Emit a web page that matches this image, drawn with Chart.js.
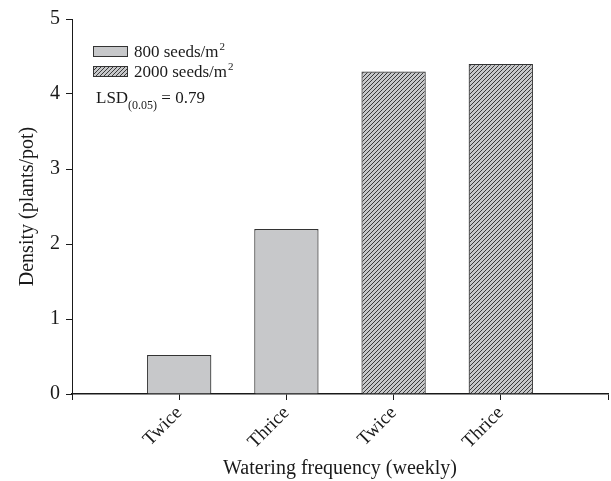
<!DOCTYPE html>
<html>
<head>
<meta charset="utf-8">
<script src="https://cdn.jsdelivr.net/npm/chart.js@4"></script>
<style>
  body { margin: 0; background: #fff; }
  canvas { display: block; }
</style>
</head>
<body>
<canvas id="densityChart" width="611" height="481"></canvas>
<script>
// ------------------------------------------------------------
// Data
// ------------------------------------------------------------
const CATEGORIES = ['', 'Twice', 'Thrice', 'Twice', 'Thrice', ''];
const SERIES_LABELS = ['800 seeds/m²', '2000 seeds/m²'];
const DENSITY_800 = [null, 0.52, 2.2, null, null, null];
const DENSITY_2000 = [null, null, null, 4.3, 4.4, null];
const Y_TICKS = [0, 1, 2, 3, 4, 5];
const LSD_NOTE = { main: 'LSD', sub: '(0.05)', rest: ' = 0.79' };

const SERIF = '"Liberation Serif", "DejaVu Serif", serif';
const INK = '#1a1a1a';
const GREY = '#c7c8ca';

// diagonal hatch for the high density bars
function makeHatch() {
  const c = document.createElement('canvas');
  c.width = 4; c.height = 4;
  const g = c.getContext('2d');
  g.fillStyle = GREY;
  g.fillRect(0, 0, 4, 4);
  g.strokeStyle = '#3a3a3a';
  g.lineWidth = 1;
  g.beginPath();
  g.moveTo(-1, 5); g.lineTo(5, -1);
  g.moveTo(-1, 1); g.lineTo(1, -1);
  g.moveTo(3, 5); g.lineTo(5, 3);
  g.stroke();
  return g.createPattern(c, 'repeat');
}
const HATCH = makeHatch();

// legend + LSD note drawn inside the plot area
const innerLegend = {
  id: 'innerLegend',
  afterDraw(chart) {
    const ctx = chart.ctx;
    const area = chart.chartArea;
    const x0 = area.left + 21;
    let y0 = area.top + 27;
    ctx.save();
    chart.data.datasets.forEach((ds, i) => {
      const by = y0 + i * 20;
      ctx.fillStyle = ds.backgroundColor;
      ctx.fillRect(x0, by, 34, 10);
      ctx.strokeStyle = '#333';
      ctx.lineWidth = 1;
      ctx.strokeRect(x0 + 0.5, by + 0.5, 34, 10);
      let label = ds.label;
      let sup = '';
      if (label.endsWith('²')) { label = label.slice(0, -1); sup = '2'; }
      ctx.fillStyle = INK;
      ctx.textBaseline = 'alphabetic';
      ctx.textAlign = 'left';
      ctx.font = '17px ' + SERIF;
      ctx.fillText(label, x0 + 41, by + 11);
      if (sup) {
        const w = ctx.measureText(label).width;
        ctx.font = '11px ' + SERIF;
        ctx.fillText(sup, x0 + 41 + w + 1, by + 4);
      }
    });
    // LSD line
    const ly = y0 + 57;
    ctx.fillStyle = INK;
    ctx.font = '17px ' + SERIF;
    ctx.fillText(LSD_NOTE.main, x0 + 3, ly);
    let x = x0 + 3 + ctx.measureText(LSD_NOTE.main).width;
    ctx.font = '12px ' + SERIF;
    ctx.fillText(LSD_NOTE.sub, x, ly + 6);
    x += ctx.measureText(LSD_NOTE.sub).width;
    ctx.font = '17px ' + SERIF;
    ctx.fillText(LSD_NOTE.rest, x, ly);
    ctx.restore();
  }
};

const ctx = document.getElementById('densityChart').getContext('2d');
new Chart(ctx, {
  type: 'bar',
  data: {
    labels: CATEGORIES,
    datasets: [
      {
        label: SERIES_LABELS[0],
        data: DENSITY_800,
        backgroundColor: GREY,
        borderColor: '#333',
        borderWidth: 1.2,
        grouped: false
      },
      {
        label: SERIES_LABELS[1],
        data: DENSITY_2000,
        backgroundColor: HATCH,
        borderColor: '#333',
        borderWidth: 1.2,
        grouped: false
      }
    ]
  },
  options: {
    responsive: false,
    animation: false,
    barPercentage: 0.6,
    categoryPercentage: 1.0,
    layout: { padding: { top: 19, right: 3, left: 0, bottom: 0 } },
    plugins: {
      legend: { display: false },
      tooltip: { enabled: false }
    },
    scales: {
      x: {
        type: 'category',
        offset: false,
        afterFit: s => { s.height = 87; s.paddingLeft = 0; s.paddingRight = 0; },
        grid: { offset: false, drawOnChartArea: false, tickLength: 6, color: INK, lineWidth: 1 },
        border: { display: true, color: INK, width: 1.5 },
        ticks: {
          autoSkip: false, minRotation: 45, maxRotation: 45,
          color: INK, padding: 2,
          font: { family: SERIF, size: 19 }
        },
        title: {
          display: true, text: 'Watering frequency (weekly)',
          color: INK, font: { family: SERIF, size: 20 },
          padding: { top: 0, bottom: 0 }
        }
      },
      y: {
        min: 0, max: 5,
        afterFit: s => { s.width = 72; },
        afterBuildTicks: s => { s.ticks = Y_TICKS.map(v => ({ value: v })); },
        grid: { drawOnChartArea: false, tickLength: 6, color: INK, lineWidth: 1 },
        border: { display: true, color: INK, width: 1 },
        ticks: {
          color: INK, padding: 6,
          font: { family: SERIF, size: 20 }
        },
        title: {
          display: true, text: 'Density (plants/pot)',
          color: INK, font: { family: SERIF, size: 20 },
          padding: { top: 16, bottom: 0 }
        }
      }
    }
  },
  plugins: [innerLegend]
});
</script>
</body>
</html>
